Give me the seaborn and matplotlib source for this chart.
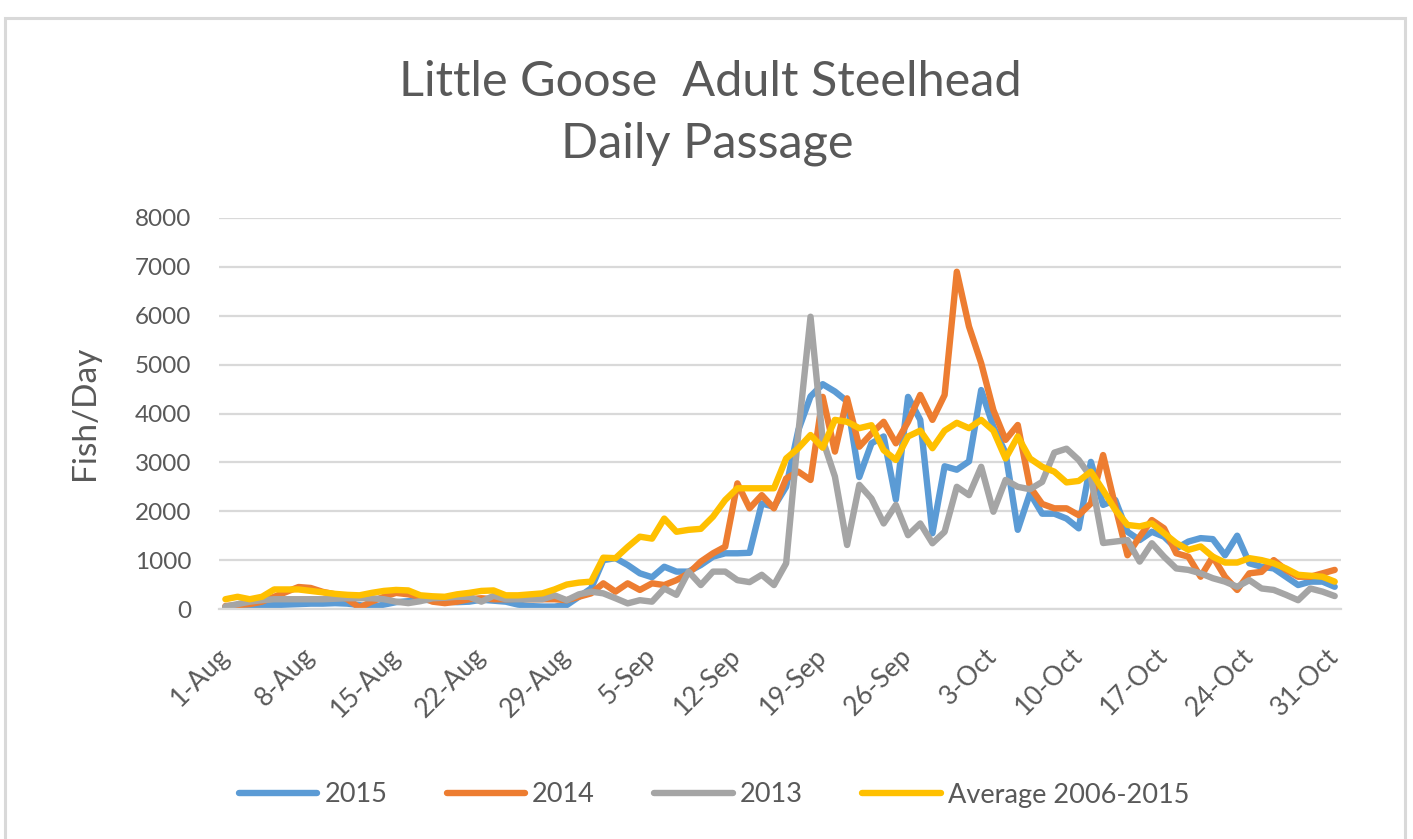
import numpy as np
import pandas as pd
import matplotlib
matplotlib.use("Agg")
import matplotlib.pyplot as plt
import seaborn as sns
from matplotlib.patches import Rectangle
from matplotlib.lines import Line2D

# ---------------- data ----------------
dates = pd.date_range("2015-08-01", "2015-10-31", freq="D")
tick_labels = ["1-Aug", "8-Aug", "15-Aug", "22-Aug", "29-Aug", "5-Sep", "12-Sep",
               "19-Sep", "26-Sep", "3-Oct", "10-Oct", "17-Oct", "24-Oct", "31-Oct"]
series_names = ["2015", "2014", "2013", "Average 2006-2015"]

s2015 = [40, 50, 60, 70, 80, 90, 100, 110, 110, 120,
         110, 80, 40, 90, 140, 160, 190, 180, 150, 140,
         150, 190, 170, 150, 90, 60, 50, 50, 80, 250,
         420, 1000, 1040, 900, 730, 650, 865, 765, 765, 900,
         1070, 1140, 1140, 1150, 2160, 2090, 2500, 3660, 4350, 4600,
         4450, 4250, 2700, 3390, 3530, 2240, 4340, 3870, 1550, 2920,
         2850, 3020, 4480, 3730, 3190, 1620, 2370, 1950, 1950, 1850,
         1650, 3010, 2130, 2230, 1580, 1410, 1580, 1480, 1240, 1380,
         1450, 1430, 1100, 1500, 935, 865, 830, 660, 490, 560,
         560, 455]

s2014 = [60, 80, 100, 150, 250, 350, 450, 430, 350, 300,
         200, 30, 150, 250, 330, 300, 250, 150, 120, 150,
         200, 220, 200, 200, 210, 200, 200, 200, 180, 250,
         320, 525, 355, 525, 390, 525, 490, 590, 730, 970,
         1140, 1275, 2570, 2060, 2330, 2060, 2670, 2810, 2640, 4340,
         3220, 4310, 3320, 3590, 3830, 3390, 3830, 4380, 3870, 4380,
         6900, 5780, 5030, 4070, 3460, 3765, 2500, 2150, 2060, 2060,
         1920, 2160, 3150, 2100, 1100, 1480, 1820, 1650, 1140, 1070,
         660, 1070, 660, 390, 730, 760, 1000, 800, 660, 660,
         730, 800]

s2013 = [50, 100, 150, 180, 200, 200, 200, 200, 200, 210,
         220, 220, 220, 200, 150, 120, 160, 220, 230, 250,
         250, 150, 270, 200, 200, 200, 200, 280, 180, 300,
         355, 320, 220, 115, 180, 150, 420, 290, 765, 490,
         765, 765, 590, 550, 700, 490, 935, 3600, 5980, 3460,
         2710, 1310, 2540, 2260, 1750, 2130, 1510, 1750, 1345, 1580,
         2500, 2330, 2910, 1990, 2640, 2500, 2450, 2600, 3200, 3280,
         3050, 2700, 1350, 1380, 1410, 970, 1345, 1070, 830, 800,
         730, 630, 560, 455, 590, 420, 390, 290, 180, 420,
         355, 265]

avg_0615 = [200, 250, 200, 250, 400, 400, 400, 370, 340, 310,
            290, 280, 330, 370, 390, 380, 280, 260, 250, 300,
            330, 370, 380, 280, 280, 300, 320, 400, 500, 540,
            560, 1050, 1040, 1270, 1480, 1440, 1850, 1580, 1620, 1640,
            1890, 2230, 2470, 2470, 2470, 2470, 3080, 3290, 3560, 3300,
            3870, 3830, 3700, 3760, 3250, 3050, 3530, 3650, 3290, 3650,
            3810, 3700, 3870, 3650, 3080, 3530, 3080, 2910, 2810, 2590,
            2620, 2810, 2430, 2030, 1720, 1690, 1750, 1550, 1350, 1210,
            1280, 1070, 950, 950, 1040, 1000, 935, 830, 700, 680,
            660, 560]

colors = ["#5B9BD5", "#ED7D31", "#A5A5A5", "#FFC000"]

# ---------------- frame ----------------
sns.set_style("white")
plt.rcParams["font.family"] = ["Lato", "DejaVu Sans"]
TXT = "#595959"
GRID = "#D9D9D9"

W, H = 1413, 839
fig = plt.figure(figsize=(W / 100, H / 100), dpi=100)

x0, x1 = 219.3, 1340.8
y0, y1 = 609.0, 218.0
ax = fig.add_axes([x0 / W, 1 - y0 / H, (x1 - x0) / W, (y0 - y1) / H])

n = len(dates)
day_idx = np.arange(n)
df = pd.DataFrame({
    "day": np.tile(day_idx, 4),
    "value": np.concatenate([s2015, s2014, s2013, avg_0615]),
    "series": np.repeat(series_names, n),
})

sns.lineplot(data=df, x="day", y="value", hue="series", hue_order=series_names,
             palette=colors, linewidth=4.6, ax=ax, legend=False, sort=False)
for ln in ax.get_lines():
    ln.set_solid_joinstyle("round")
    ln.set_solid_capstyle("round")

ax.set_xlim(-0.5, n - 0.5)
ax.set_ylim(0, 8000)
ax.set_yticks(range(0, 8001, 1000))
ax.yaxis.grid(True, color=GRID, linewidth=1.6)
ax.xaxis.grid(False)
ax.set_axisbelow(True)
for side in ["top", "right", "left"]:
    ax.spines[side].set_visible(False)
ax.spines["bottom"].set_color(GRID)
ax.spines["bottom"].set_linewidth(1.6)

major = list(range(0, n, 7))
ax.set_xticks(major)
ax.set_xticklabels(tick_labels)
ax.set_xticks([m - 0.5 for m in major], minor=True)
ax.tick_params(axis="x", which="major", length=0, pad=31, labelsize=19, labelcolor=TXT)
ax.tick_params(axis="x", which="minor", length=7, width=1.6, color=GRID, direction="out")
plt.setp(ax.get_xticklabels(), rotation=45, ha="right", va="center", rotation_mode="anchor")
ax.tick_params(axis="y", length=0, pad=20, labelsize=17.5, labelcolor=TXT)
ax.set_xlabel("")
ax.set_ylabel("")

fig.text(85 / W, 1 - 413 / H, "Fish/Day", rotation=90, ha="center", va="center",
         fontsize=24, color=TXT)

fig.text(710 / W, 1 - 96 / H, "Little Goose  Adult Steelhead", ha="center", va="baseline",
         fontsize=35, color=TXT)
fig.text(707 / W, 1 - 157 / H, "Daily Passage", ha="center", va="baseline",
         fontsize=35, color=TXT)

handles = [Line2D([0], [0], color=c, lw=4.6, solid_capstyle="round") for c in colors]
fig.legend(handles, series_names, loc="center", bbox_to_anchor=(714 / W, 1 - 795 / H),
           ncol=4, frameon=False, fontsize=19.5, labelcolor=TXT, handlelength=2.9,
           handletextpad=0.25, columnspacing=2.2)

fig.patches.append(Rectangle((5 / W, -0.05), (1405 - 5) / W, (1 - 18 / H) + 0.05,
                             transform=fig.transFigure, fill=False,
                             edgecolor=GRID, linewidth=2.2))

fig.savefig("out.png", dpi=100)
